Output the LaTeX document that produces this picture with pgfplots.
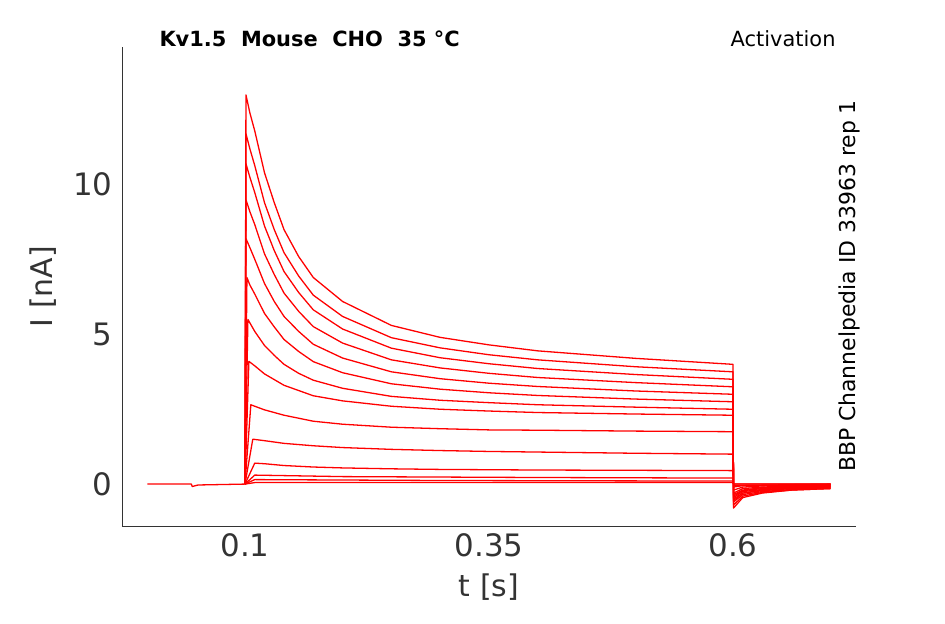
\documentclass[border=0pt]{standalone}
\usepackage{pgfplots}
\pgfplotsset{compat=1.18}
\usepackage{fontspec}
\setmainfont{DejaVu Sans}
\tikzset{tr/.style={red, line width=1.3pt, line join=round, mark=none}}
\begin{document}
\begin{tikzpicture}
\useasboundingbox (-122bp,-98bp) rectangle (823bp,526bp);
\begin{axis}[at={(0,0)},anchor=south west,scale only axis,width=734bp,height=479bp,
 xmin=-0.026,xmax=0.726,ymin=-1.4,ymax=14.6,
 axis lines=left, axis line style={-,black!80}, tick align=inside, major tick length=0pt,
 xtick={0.1,0.35,0.6}, xticklabels={0.1,0.35,0.6}, ytick={0,5,10},
 tick label style={font=\fontsize{31}{36}\selectfont, text=black!80},
 xticklabel style={yshift=-4bp}, yticklabel style={xshift=-6bp},
 /pgf/number format/assume math mode=true,
 xlabel={t [s]}, ylabel={I [nA]},
 label style={font=\fontsize{30}{35}\selectfont, text=black!80},
 xlabel style={yshift=-10bp}, ylabel style={yshift=10bp},
 clip=false]
\addplot[tr] coordinates {(0,0)(0.045,0)(0.046,-0.08)(0.052,-0.03)(0.1,0)(0.101,13.0)(0.105,12.4)(0.11,11.8)(0.12,10.4)(0.13,9.4)(0.14,8.5)(0.155,7.6)(0.17,6.9)(0.2,6.1)(0.25,5.3)(0.3,4.9)(0.35,4.65)(0.4,4.45)(0.5,4.2)(0.6,4.0)(0.6005,-0.8)(0.61,-0.45)(0.63,-0.3)(0.66,-0.2)(0.7,-0.15)};
\addplot[tr] coordinates {(0.1,0)(0.101,11.7)(0.105,11.2)(0.11,10.64)(0.12,9.40)(0.13,8.5)(0.14,7.73)(0.155,6.95)(0.17,6.31)(0.2,5.60)(0.25,4.89)(0.3,4.55)(0.35,4.32)(0.4,4.15)(0.5,3.92)(0.6,3.75)(0.6005,-0.7)(0.61,-0.4)(0.63,-0.28)(0.66,-0.2)(0.7,-0.15)};
\addplot[tr] coordinates {(0.1,0)(0.101,10.7)(0.105,10.25)(0.11,9.74)(0.12,8.62)(0.13,7.8)(0.14,7.1)(0.155,6.4)(0.17,5.82)(0.2,5.18)(0.25,4.54)(0.3,4.22)(0.35,4.02)(0.4,3.86)(0.5,3.66)(0.6,3.5)(0.6005,-0.6)(0.61,-0.35)(0.63,-0.25)(0.66,-0.18)(0.7,-0.12)};
\addplot[tr] coordinates {(0.1,0)(0.101,9.5)(0.105,9.1)(0.11,8.67)(0.12,7.69)(0.13,7.0)(0.14,6.38)(0.155,5.77)(0.17,5.26)(0.2,4.71)(0.25,4.15)(0.3,3.88)(0.35,3.7)(0.4,3.56)(0.5,3.39)(0.6,3.25)(0.6005,-0.55)(0.61,-0.3)(0.63,-0.22)(0.66,-0.15)(0.7,-0.1)};
\addplot[tr] coordinates {(0.1,0)(0.101,8.2)(0.105,7.9)(0.11,7.51)(0.12,6.70)(0.13,6.1)(0.14,5.6)(0.155,5.1)(0.17,4.67)(0.2,4.21)(0.25,3.75)(0.3,3.52)(0.35,3.37)(0.4,3.26)(0.5,3.11)(0.6,3.0)(0.6005,-0.5)(0.61,-0.3)(0.63,-0.2)(0.66,-0.14)(0.7,-0.1)};
\addplot[tr] coordinates {(0.1,0)(0.102,6.9)(0.105,6.65)(0.11,6.35)(0.12,5.70)(0.13,5.25)(0.14,4.83)(0.155,4.43)(0.17,4.09)(0.2,3.72)(0.25,3.35)(0.3,3.17)(0.35,3.05)(0.4,2.96)(0.5,2.84)(0.6,2.75)(0.6005,-0.45)(0.61,-0.25)(0.63,-0.18)(0.66,-0.12)(0.7,-0.08)};
\addplot[tr] coordinates {(0.1,0)(0.103,5.5)(0.11,5.1)(0.12,4.63)(0.13,4.3)(0.14,4.0)(0.155,3.7)(0.17,3.47)(0.2,3.2)(0.25,2.93)(0.3,2.8)(0.35,2.72)(0.4,2.65)(0.5,2.57)(0.6,2.5)(0.6005,-0.4)(0.61,-0.22)(0.63,-0.15)(0.66,-0.1)(0.7,-0.08)};
\addplot[tr] coordinates {(0.1,0)(0.104,4.1)(0.11,3.95)(0.12,3.68)(0.14,3.3)(0.17,2.95)(0.2,2.78)(0.25,2.6)(0.3,2.5)(0.35,2.44)(0.4,2.39)(0.5,2.34)(0.6,2.3)(0.6005,-0.35)(0.61,-0.2)(0.63,-0.12)(0.66,-0.08)(0.7,-0.05)};
\addplot[tr] coordinates {(0.1,0)(0.106,2.65)(0.11,2.6)(0.12,2.48)(0.14,2.3)(0.17,2.1)(0.2,2.0)(0.25,1.9)(0.3,1.85)(0.35,1.81)(0.4,1.8)(0.5,1.77)(0.6,1.75)(0.6005,-0.3)(0.61,-0.15)(0.63,-0.1)(0.66,-0.06)(0.7,-0.04)};
\addplot[tr] coordinates {(0.1,0)(0.108,1.5)(0.12,1.45)(0.14,1.36)(0.17,1.28)(0.2,1.22)(0.25,1.16)(0.3,1.12)(0.35,1.09)(0.4,1.07)(0.5,1.03)(0.6,1.0)(0.6005,-0.2)(0.61,-0.1)(0.63,-0.06)(0.7,-0.03)};
\addplot[tr] coordinates {(0.1,0)(0.11,0.7)(0.12,0.68)(0.14,0.62)(0.17,0.57)(0.2,0.54)(0.25,0.51)(0.3,0.49)(0.35,0.48)(0.4,0.47)(0.5,0.46)(0.6,0.45)(0.6005,-0.1)(0.61,-0.05)(0.7,-0.02)};
\addplot[tr] coordinates {(0.1,0)(0.11,0.3)(0.2,0.25)(0.4,0.22)(0.6,0.2)(0.6005,-0.05)(0.7,0)};
\addplot[tr] coordinates {(0.1,0)(0.11,0.15)(0.3,0.12)(0.6,0.1)(0.6005,0)(0.7,0)};
\addplot[tr] coordinates {(0.1,0)(0.11,0.05)(0.6,0.05)(0.6005,0)(0.7,0)};
\end{axis}
\node[anchor=west,font=\bfseries\fontsize{21}{25}\selectfont] at (34bp,487bp) {Kv1.5\ \ Mouse\ \ CHO\ \ 35 °C};
\node[anchor=east,font=\fontsize{21}{25}\selectfont] at (717bp,487bp) {Activation};
\node[rotate=90,font=\fontsize{22}{26}\selectfont] at (727bp,240bp) {BBP Channelpedia ID 33963 rep 1};
\end{tikzpicture}
\end{document}
